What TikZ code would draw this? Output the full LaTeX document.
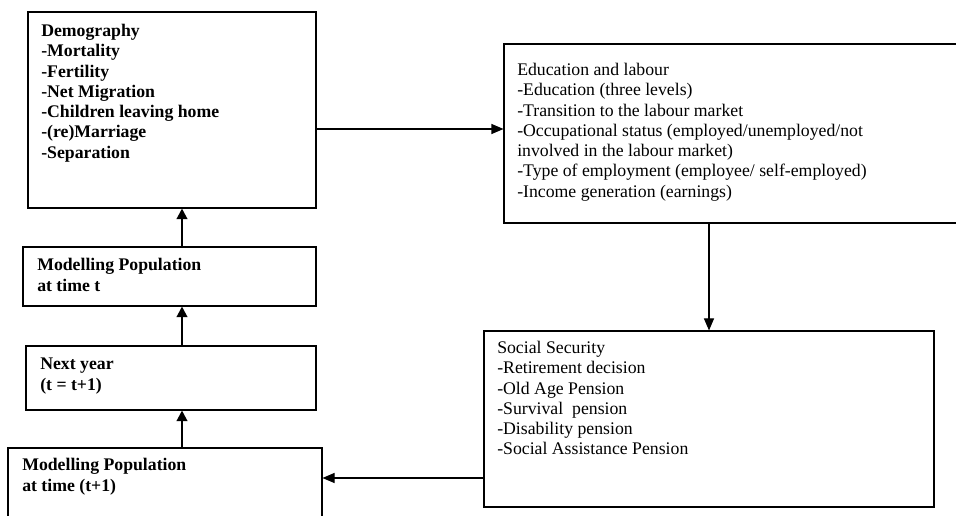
\documentclass[tikz,border=0pt]{standalone}
\usepackage{fontspec}
\setmainfont{Liberation Serif}
\usetikzlibrary{arrows.meta}
\tikzset{
	block/.style={draw, rectangle, line width=0.8pt, inner sep=0pt},
	blocktext/.style={anchor=north west, inner sep=0pt, align=left, font=\fontsize{13.3}{15.2}\selectfont},
	flow/.style={line width=0.8pt, -{Triangle[length=9pt,width=7.5pt]}},
	stepup/.style={line width=1.6pt, -{Triangle[length=8pt,width=8pt]}}
}

\begin{document}
\begin{tikzpicture}[x=0.75pt, y=-0.75pt]
			%%%%% START %%%%%
			\useasboundingbox (0, 0) rectangle (956, 516);
			\clip (0, 0) rectangle (956, 516);
			
			% boxes
			\node[block, minimum width=216pt, minimum height=147pt] (demo) at (172, 110) {};
			\node[block, minimum width=342pt, minimum height=134.25pt] (edu) at (732, 133.5) {};
			\node[block, minimum width=337.5pt, minimum height=132pt] (soc) at (709, 419) {};
			\node[block, minimum width=219.75pt, minimum height=44.25pt] (popt) at (169.5, 276.5) {};
			\node[block, minimum width=217.5pt, minimum height=48pt] (nexty) at (171, 378) {};
			\node[block, minimum width=235.5pt, minimum height=61.5pt] (popnext) at (165, 489) {};
			
			% texts
			\node[blocktext, font=\fontsize{13.3}{15.2}\selectfont\bfseries] (demotxt) at (41, 24) {Demography\\-Mortality\\-Fertility\\-Net Migration\\-Children leaving home\\-(re)Marriage\\-Separation};
			\node[blocktext] (edutxt) at (517, 63) {Education and labour\\-Education (three levels)\\-Transition to the labour market\\-Occupational status (employed/unemployed/not\\involved in the labour market)\\-Type of employment (employee/ self-employed)\\-Income generation (earnings)};
			\node[blocktext] (soctxt) at (497, 341) {Social Security\\-Retirement decision\\-Old Age Pension\\-Survival\ \ pension\\-Disability pension\\-Social Assistance Pension};
			\node[blocktext, font=\fontsize{13.3}{15.8}\selectfont\bfseries] (popttxt) at (37, 258) {Modelling Population\\at time t};
			\node[blocktext, font=\fontsize{13.3}{15.8}\selectfont\bfseries] (nextytxt) at (40, 358) {Next year\\(t = t+1)};
			\node[blocktext, font=\fontsize{13.3}{15.8}\selectfont\bfseries] (popnexttxt) at (22, 458) {Modelling Population\\at time (t+1)};
			
			% connectors
			\coordinate (row1) at (400, 129);
			\coordinate (row2) at (400, 478);
			\coordinate (col) at (182, 0);
			\draw[flow] (row1 -| demo.east) -- (row1 -| edu.west);
			\draw[flow] (soc.north |- edu.south) -- (soc.north);
			\draw[flow] (row2 -| soc.west) -- (row2 -| popnext.east);
			\draw[stepup] (col |- popnext.north) -- (col |- nexty.south);
			\draw[stepup] (col |- nexty.north) -- (col |- popt.south);
			\draw[stepup] (col |- popt.north) -- (col |- demo.south);
			%%%%% END %%%%%
\end{tikzpicture}
\end{document}
